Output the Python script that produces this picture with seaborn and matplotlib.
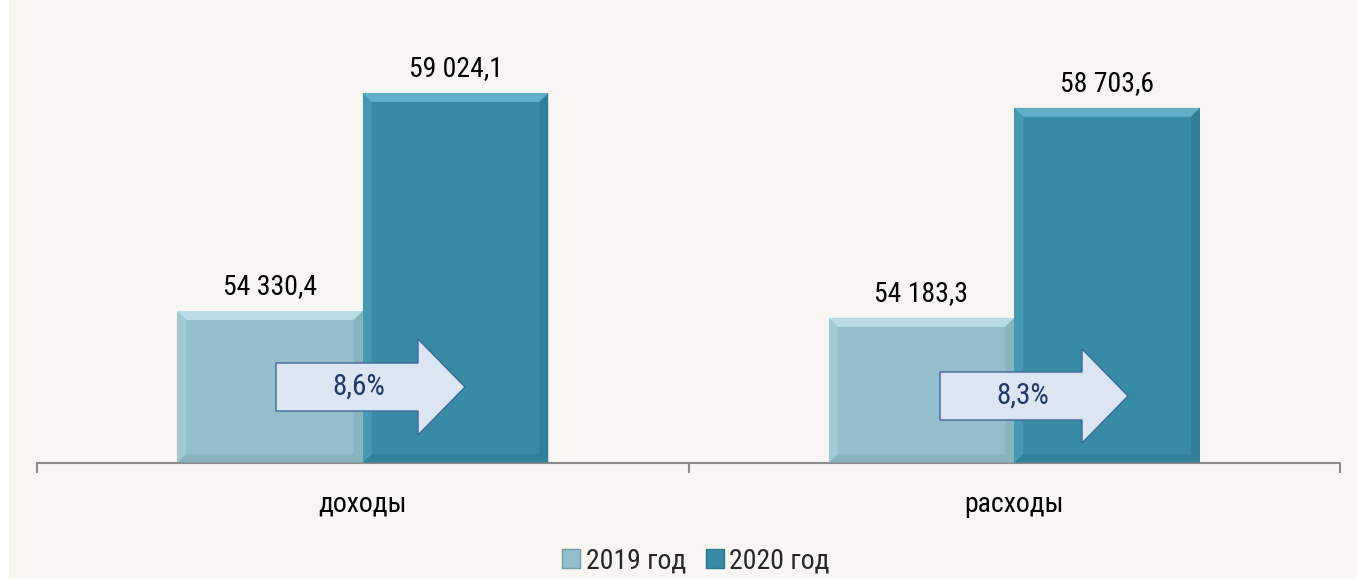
import matplotlib
matplotlib.use("Agg")
import matplotlib.pyplot as plt
import matplotlib.patches as mpatches
from matplotlib.patches import Polygon, Rectangle
import seaborn as sns
import pandas as pd

categories = ["доходы", "расходы"]
years = ["2019 год", "2020 год"]
values_2019 = [54330.4, 54183.3]
values_2020 = [59024.1, 58703.6]
growth_labels = ["8,6%", "8,3%"]

colors = {"2019 год": "#92BFCB", "2020 год": "#378BA5"}

df = pd.DataFrame({
    "cat": categories * 2,
    "year": [years[0]] * 2 + [years[1]] * 2,
    "value": values_2019 + values_2020,
})

sns.set_theme(style="white")
plt.rcParams["font.family"] = ["Liberation Sans Narrow", "Arial Narrow", "Roboto Condensed",
                               "PT Sans Narrow", "Archivo Narrow", "DejaVu Sans"]

W, H = 1357, 579
fig = plt.figure(figsize=(W / 100, H / 100), dpi=100)
fig.patch.set_facecolor("white")
fig.patches.append(Rectangle((9 / W, 0), 1 - 9 / W, 1, transform=fig.transFigure,
                             facecolor="#F7F6F2", edgecolor="none", zorder=-10))

ax_left, ax_right, ax_bot, ax_top = 37, 1340, 463, 40
ax = fig.add_axes([ax_left / W, 1 - ax_bot / H, (ax_right - ax_left) / W, (ax_bot - ax_top) / H])
ax.set_facecolor("none")

sns.barplot(data=df, x="cat", y="value", hue="year", palette=colors, width=0.57,
            ax=ax, legend=False, saturation=1, linewidth=0, errorbar=None)

ymin = 51058
scale = 0.04645  # px per unit
ymax = ymin + (ax_bot - ax_top) / scale
ax.set_ylim(ymin, ymax)
ax.set_xlim(-0.5, 1.5)

# bevel decoration and value labels
px_x = 1 / 651.5
px_y = 1 / scale
b = 9
for container, yr in zip(ax.containers, years):
    for bar in container:
        x0 = bar.get_x(); w = bar.get_width()
        y1 = bar.get_y() + bar.get_height()
        yb = ymin
        bx, by = b * px_x, b * px_y
        light = "#B9DCE6" if yr == years[0] else "#5FB0C8"
        dark = "#7FAAB6" if yr == years[0] else "#2D7690"
        ax.add_patch(Polygon([(x0, y1), (x0 + w, y1), (x0 + w - bx, y1 - by), (x0 + bx, y1 - by)],
                             closed=True, facecolor=light, edgecolor="none", zorder=3))
        ax.add_patch(Polygon([(x0 + w, y1), (x0 + w, yb), (x0 + w - bx, yb + by), (x0 + w - bx, y1 - by)],
                             closed=True, facecolor=dark, edgecolor="none", zorder=3, alpha=0.5))
        ax.add_patch(Polygon([(x0, yb), (x0 + w, yb), (x0 + w - bx, yb + by), (x0 + bx, yb + by)],
                             closed=True, facecolor=dark, edgecolor="none", zorder=3, alpha=0.5))
        ax.add_patch(Polygon([(x0, y1), (x0, yb), (x0 + bx, yb + by), (x0 + bx, y1 - by)],
                             closed=True, facecolor=light, edgecolor="none", zorder=3, alpha=0.4))
        val = bar.get_height() + bar.get_y()
        txt = f"{val:,.1f}".replace(",", " ").replace(".", ",")
        ax.annotate(txt, (x0 + w / 2, y1), xytext=(0, 8), textcoords="offset points",
                    ha="center", va="bottom", fontsize=20, color="black")

# growth arrows
def to_y(py):
    return ymin + (ax_bot - py) / scale

arrow_px = [
    (276, 418, 465, 363, 411, 339, 435),
    (940, 1082, 1128, 372, 420, 349, 443),
]
for i, (xa, xb, xt, yt, ybm, yht, yhb) in enumerate(arrow_px):
    cx = ax_left + (ax_right - ax_left) / 4 * (1 + 2 * i)
    fx = lambda p: i + (p - cx) / 651.5
    ymid = (yt + ybm) / 2
    pts = [(fx(xa), to_y(yt)), (fx(xb), to_y(yt)), (fx(xb), to_y(yht)), (fx(xt), to_y(ymid)),
           (fx(xb), to_y(yhb)), (fx(xb), to_y(ybm)), (fx(xa), to_y(ybm))]
    ax.add_patch(Polygon(pts, closed=True, facecolor="#DCE6F2", edgecolor="#3F679B",
                         linewidth=1.0, zorder=5))
    ax.text(fx((xa + xb) / 2 + 12), to_y(ymid), growth_labels[i], ha="center", va="center",
            fontsize=21, color="#1F3864", zorder=6)

# axes styling
for s in ["top", "right", "left"]:
    ax.spines[s].set_visible(False)
ax.spines["bottom"].set_color("#8C8C8C")
ax.spines["bottom"].set_linewidth(1.5)
ax.set_yticks([])
ax.set_xlabel("")
ax.set_ylabel("")
ax.set_xticks([0, 1])
ax.set_xticklabels(categories, fontsize=20, color="black")
ax.tick_params(axis="x", which="both", bottom=True)
ax.tick_params(axis="x", which="major", length=0, pad=20)
ax.set_xticks([-0.5, 0.5, 1.5], minor=True)
ax.tick_params(axis="x", which="minor", length=7, width=1.5, color="#8C8C8C", direction="out")
ax.grid(False)

handles = [mpatches.Patch(facecolor=colors[y], edgecolor="#6E9DAA" if y == years[0] else "#2D7690",
                          label=y) for y in years]
fig.legend(handles=handles, loc="center", bbox_to_anchor=(696 / W, 1 - 561 / H), ncol=2,
           frameon=False, fontsize=20, handlelength=0.65, handleheight=0.65,
           handletextpad=0.2, columnspacing=0.7, borderpad=0)

fig.savefig("out.png", dpi=100, facecolor=fig.get_facecolor())
